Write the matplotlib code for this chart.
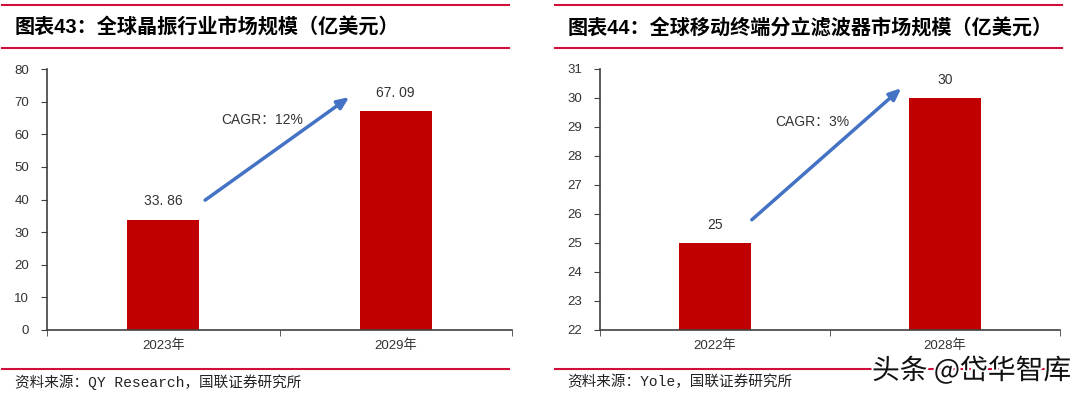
import numpy as np
import matplotlib.pyplot as plt
from matplotlib.lines import Line2D
import matplotlib.patheffects as pe

plt.rcParams['font.family'] = ['Liberation Sans', 'Noto Sans CJK SC', 'DejaVu Sans']

# =========================================================
# Dati
# =========================================================
anni_sx = ["2023年", "2029年"]
valori_sx = [33.86, 67.09]
etichette_sx = ["33. 86", "67. 09"]
cagr_sx = "CAGR：12%"

anni_dx = ["2022年", "2028年"]
valori_dx = [25, 30]
etichette_dx = ["25", "30"]
cagr_dx = "CAGR：3%"

titolo_sx = "图表43：全球晶振行业市场规模（亿美元）"
titolo_dx = "图表44：全球移动终端分立滤波器市场规模（亿美元）"
fonte_sx = "资料来源：QY Research，国联证券研究所"
fonte_dx = "资料来源：Yole，国联证券研究所"

ROSSO = "#C00000"
LINEA = "#D0103A"
BLU = "#4472C4"
GRIGIO = "#404040"

fig = plt.figure(figsize=(10.8, 3.93), dpi=100)
W, H = 1080, 393


def px(x, y):
    return x / W, 1 - y / H


def pannello(rect, anni, valori, etichette, ylim, passo, freccia, testo_pos, cagr):
    ax = fig.add_axes(rect)
    x = np.arange(len(anni))
    ax.bar(x, valori, width=0.31, color=ROSSO, zorder=2)
    for xi, v, t in zip(x, valori, etichette):
        ax.annotate(t, (xi, v), xytext=(0, 8), textcoords="offset points",
                    ha="center", va="bottom", fontsize=10, color="#333333")
    ax.set_xlim(-0.5, 1.5)
    ax.set_ylim(*ylim)
    ax.set_yticks(np.arange(ylim[0], ylim[1] + passo / 2, passo))
    ax.set_xticks(x)
    ax.set_xticklabels(anni, fontsize=9.5, color="#333333")
    ax.set_xticks([-0.5, 0.5, 1.5], minor=True)
    ax.tick_params(axis="x", which="major", length=0, pad=7)
    ax.tick_params(axis="x", which="minor", length=4, direction="out", color=GRIGIO)
    ax.tick_params(axis="y", length=4, direction="out", color=GRIGIO,
                   labelsize=9.5, labelcolor="#333333", pad=9)
    for s in ["top", "right"]:
        ax.spines[s].set_visible(False)
    for s in ["left", "bottom"]:
        ax.spines[s].set_color(GRIGIO)
        ax.spines[s].set_linewidth(1.2)
    ax.annotate("", xy=freccia[1], xytext=freccia[0],
                arrowprops=dict(arrowstyle="-|>,head_length=0.7,head_width=0.3",
                                color=BLU, lw=2.5, shrinkA=0, shrinkB=0))
    ax.text(testo_pos[0], testo_pos[1], cagr, fontsize=10, color="#333333",
            ha="left", va="center")
    return ax


pannello([47 / W, 1 - 330 / H, 465 / W, 261 / H], anni_sx, valori_sx, etichette_sx,
         (0, 80), 10, ((0.18, 39.8), (0.80, 71.4)), (0.25, 64.4), cagr_sx)
pannello([600 / W, 1 - 330 / H, 460 / W, 261 / H], anni_dx, valori_dx, etichette_dx,
         (22, 31), 1, ((0.16, 25.8), (0.81, 30.34)), (0.26, 29.17), cagr_dx)

# =========================================================
# Linee rosse e titoli
# =========================================================
for x0, x1 in [(2, 509), (555, 1062)]:
    for y in [5, 48, 369]:
        a, b = px(x0, y)
        c, _ = px(x1, y)
        fig.add_artist(Line2D([a, c], [b, b], color=LINEA, lw=1.5))

fig.text(*px(15, 28), titolo_sx, fontsize=14.5, fontweight="bold", va="center", ha="left")
fig.text(*px(568, 28), titolo_dx, fontsize=14.5, fontweight="bold", va="center", ha="left")
fig.text(*px(15, 382), fonte_sx, fontsize=10.5, va="center", ha="left", color="#222222",
         family=["Liberation Mono", "Noto Sans CJK SC", "DejaVu Sans"])
fig.text(*px(567, 382), fonte_dx, fontsize=10.5, va="center", ha="left", color="#222222",
         family=["Liberation Mono", "Noto Sans CJK SC", "DejaVu Sans"])

# watermark
fig.text(*px(1071, 371), "头条 @岱华智库", fontsize=20, ha="right", va="center",
         color="#111111", family=["Noto Sans CJK SC", "DejaVu Sans"],
         path_effects=[pe.withStroke(linewidth=3, foreground="white")])

fig.savefig("out.png", dpi=100)
